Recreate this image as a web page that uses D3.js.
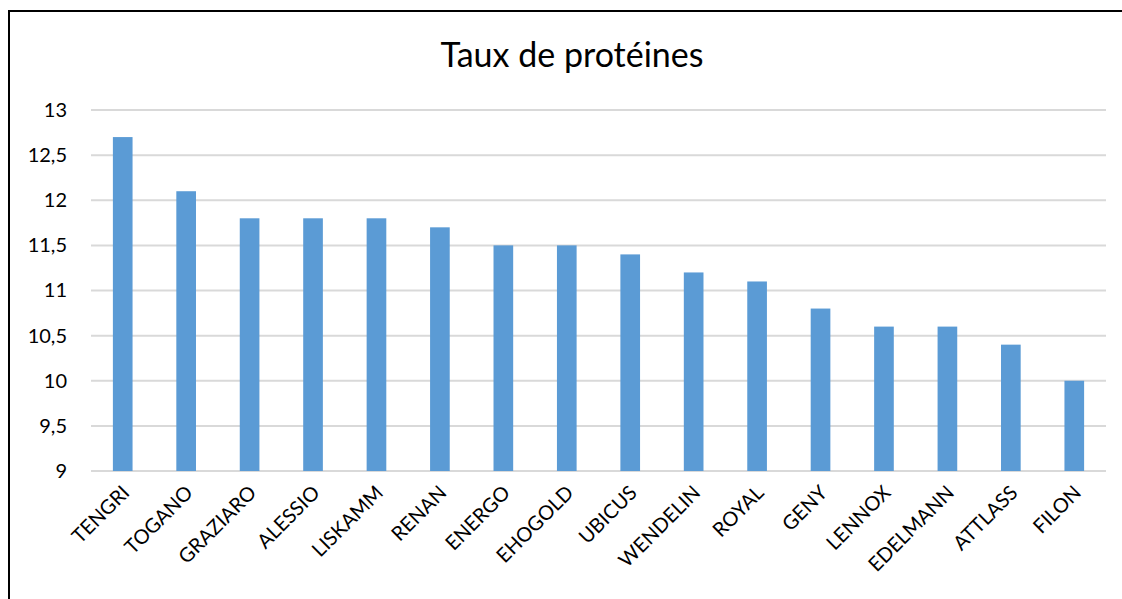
<!DOCTYPE html>
<html lang="fr">
<head>
  <meta charset="utf-8">
  <title>Taux de protéines</title>
  <script src="https://d3js.org/d3.v7.min.js"></script>
  <style>
    html, body { margin: 0; background: #fff; overflow: hidden; }
    #chart svg { display: block; }
    #chart text { font-family: Lato, "Open Sans", sans-serif; fill: #000; }
  </style>
</head>
<body>
  <div id="chart"></div>
  <script>
    "use strict"

    var varietes = ["TENGRI", "TOGANO", "GRAZIARO", "ALESSIO", "LISKAMM", "RENAN", "ENERGO", "EHOGOLD",
                    "UBICUS", "WENDELIN", "ROYAL", "GENY", "LENNOX", "EDELMANN", "ATTLASS", "FILON"];
    var proteines = [12.7, 12.1, 11.8, 11.8, 11.8, 11.7, 11.5, 11.5, 11.4, 11.2, 11.1, 10.8, 10.6, 10.6, 10.4, 10.0];
    var yTicks = [9, 9.5, 10, 10.5, 11, 11.5, 12, 12.5, 13];

    var width = 1122, height = 599;
    var margin = {top: 110, right: 16, bottom: 128, left: 91};
    var widthViz = width - margin.left - margin.right;
    var heightViz = height - margin.top - margin.bottom;

    var svg = d3.select('#chart')
      .append('svg')
        .attr('width', width)
        .attr('height', height);

    // cadre du graphique : seuls les bords haut et gauche sont visibles
    svg.append('path')
      .attr('d', 'M9,' + height + 'V11H' + width)
      .attr('fill', 'none')
      .attr('stroke', '#000')
      .attr('stroke-width', 2);

    svg.append('text')
      .attr('x', 572).attr('y', 67)
      .attr('text-anchor', 'middle')
      .style('font-size', '34px')
      .text('Taux de protéines');

    var g = svg.append('g')
      .attr('transform', 'translate(' + margin.left + ',' + margin.top + ')');

    var x = d3.scaleBand()
      .domain(varietes)
      .range([0, widthViz])
      .paddingInner(0.69)
      .paddingOuter(0.345);

    var y = d3.scaleLinear()
      .domain([9, 13])
      .range([heightViz, 0]);

    // grille
    g.selectAll('line.grid')
      .data(yTicks)
      .enter()
        .append('line')
          .attr('class', 'grid')
          .attr('x1', 0).attr('x2', widthViz)
          .attr('y1', d => y(d)).attr('y2', d => y(d))
          .attr('stroke', '#d9d9d9')
          .attr('stroke-width', 2);

    // axe y
    var fmt = d3.format('~g');
    var yAxis = g.append('g')
      .call(d3.axisLeft(y).tickValues(yTicks).tickSize(0).tickPadding(24)
        .tickFormat(d => fmt(d).replace('.', ',')));
    yAxis.select('.domain').remove();
    yAxis.selectAll('text').style('font-size', '20px');

    // barres
    g.selectAll('rect.bar')
      .data(proteines)
      .enter()
        .append('rect')
          .attr('class', 'bar')
          .attr('x', (d, i) => x(varietes[i]))
          .attr('width', x.bandwidth())
          .attr('y', d => y(d))
          .attr('height', d => heightViz - y(d))
          .attr('fill', '#5b9bd5');

    // axe x
    var xAxis = g.append('g')
      .attr('transform', 'translate(0,' + heightViz + ')')
      .call(d3.axisBottom(x).tickSize(0).tickPadding(0));
    xAxis.select('.domain').remove();
    xAxis.selectAll('text')
      .style('font-size', '20px')
      .attr('text-anchor', 'end')
      .attr('dy', 0)
      .attr('transform', 'translate(8,23) rotate(-45)');
  </script>
</body>
</html>
